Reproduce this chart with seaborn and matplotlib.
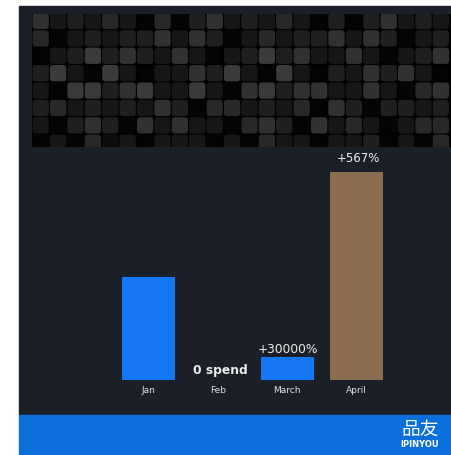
import numpy as np
import pandas as pd
import matplotlib
matplotlib.use("Agg")
import matplotlib.pyplot as plt
from matplotlib.path import Path
from matplotlib.patches import Rectangle
import seaborn as sns

# ---- data -------------------------------------------------------------
months = ["Jan", "Feb", "March", "April"]
spend = [103, 0, 23, 208]
change_labels = ["", "0 spend", "+30000%", "+567%"]

# brightness levels of the tile mosaic banner (0 = black, 3 = brightest)
mosaic_levels = [
    [2.5, 1, 1.5, 1, 2, 1, 0, 2, 0, 1.5, 2.5, 1, 1.5, 1, 2, 1, 0, 1.5, 0, 1.5, 2.5, 1, 1.5, 1],
    [2, 0, 1, 1.5, 1, 1.5, 1.5, 2.5, 1, 2.5, 1.5, 0, 1, 2, 1, 1.5, 1.5, 2.5, 1, 2.5, 1.5, 0, 1, 1.5],
    [0, 1, 1.5, 3, 1.5, 2.5, 1.5, 1, 2.5, 1, 0, 1, 1.5, 3, 1.5, 2.5, 1, 1, 2.5, 1, 0, 1, 1.5, 2.5],
    [1.5, 3, 1, 0, 3, 1, 0, 1, 1, 2.5, 1.5, 3, 1, 0, 3, 1, 0, 1.5, 1, 2.5, 1.5, 2.5, 1, 0],
    [1, 0, 3, 3, 1.5, 2.5, 3, 1, 1, 3, 1, 0, 2.5, 3, 1.5, 2.5, 2.5, 1, 1, 2.5, 1, 0, 2, 2.5],
    [1.5, 2, 1, 1.5, 1, 1.5, 1, 2.5, 1.5, 0, 2, 2, 1, 1.5, 1, 2, 0, 2.5, 1.5, 0, 1.5, 1.5, 1, 1.5],
    [1, 0, 1.5, 2.5, 1.5, 0, 2.5, 1, 2.5, 1, 1, 0, 2, 2.5, 1.5, 0, 2.5, 1, 2, 1, 0, 1, 2, 2],
    [0, 1, 0, 2, 0.5, 1, 0, 1, 1, 1, 0, 1, 0, 2, 1, 1, 0, 1, 1, 1.5, 0, 1, 0, 2],
]

# ---- styling ----------------------------------------------------------
W, H, DPI = 452, 455, 100
PANEL = "#1b1f27"
BAND = "#0a6edc"
BAR_COLORS = ["#1577f4", "#1577f4", "#1577f4", "#8b6d4f"]
TEXT = "#ececec"

sns.set_theme(style="white")
plt.rcParams["font.family"] = ["DejaVu Sans", "Noto Sans CJK SC"]

fig = plt.figure(figsize=(W / DPI, H / DPI), dpi=DPI, facecolor="white")


def fx(px):
    return px / W


def fy(py):
    return 1 - py / H


# dark card and the blue footer band (behind the axes)
fig.patches.append(Rectangle((fx(19), fy(415)), fx(452 - 19), (415 - 6) / H,
                             transform=fig.transFigure, color=PANEL, zorder=-10))
fig.patches.append(Rectangle((fx(19), fy(455)), fx(452 - 19), 40 / H,
                             transform=fig.transFigure, color=BAND, zorder=-10))

# ---- mosaic banner ----------------------------------------------------
pitch = 17.4
top, bottom, left, right = 14, 147, 32, 452
ax_m = fig.add_axes([fx(left), fy(bottom), fx(right - left), (bottom - top) / H])
ax_m.set_facecolor("black")

rows = []
for r, row in enumerate(mosaic_levels):
    for c, lvl in enumerate(row):
        rows.append({"col": c, "row": r, "grey": 4 + lvl * 18})
tiles = pd.DataFrame(rows)

# rounded square marker
rr = 0.42
verts = [(-1 + rr, -1), (1 - rr, -1), (1, -1), (1, -1 + rr), (1, 1 - rr), (1, 1),
         (1 - rr, 1), (-1 + rr, 1), (-1, 1), (-1, 1 - rr), (-1, -1 + rr), (-1, -1),
         (-1 + rr, -1), (-1 + rr, -1)]
codes = [Path.MOVETO, Path.LINETO, Path.CURVE3, Path.CURVE3, Path.LINETO, Path.CURVE3,
         Path.CURVE3, Path.LINETO, Path.CURVE3, Path.CURVE3, Path.LINETO, Path.CURVE3,
         Path.CURVE3, Path.CLOSEPOLY]
rounded = Path(verts, codes)

tile_pt = 16.3 * 72 / DPI
sns.scatterplot(data=tiles, x="col", y="row", hue="grey",
                palette=matplotlib.colormaps["gray"],
                hue_norm=matplotlib.colors.Normalize(0, 255),
                marker=rounded, s=tile_pt ** 2, edgecolor="none", linewidth=0,
                legend=False, ax=ax_m)
ax_m.set_xlim(-0.5, (right - left) / pitch - 0.5)
ax_m.set_ylim((bottom - top) / pitch - 0.4, -0.4)
ax_m.set_xticks([])
ax_m.set_yticks([])
ax_m.set_xlabel("")
ax_m.set_ylabel("")
for s in ax_m.spines.values():
    s.set_visible(False)

# ---- bar chart --------------------------------------------------------
bar_left, bar_right = 113.8, 391.2
base, ax_top = 380, 150
ax_b = fig.add_axes([fx(bar_left), fy(base), fx(bar_right - bar_left), (base - ax_top) / H])
ax_b.patch.set_alpha(0)

df = pd.DataFrame({"month": months, "spend": spend})
sns.barplot(data=df, x="month", y="spend", hue="month", palette=BAR_COLORS,
            legend=False, width=0.765, saturation=1, linewidth=0, ax=ax_b)
ax_b.set_xlim(-0.5, 3.5)
ax_b.set_ylim(0, base - ax_top)
ax_b.set_xlabel("")
ax_b.set_ylabel("")
ax_b.set_yticks([])
ax_b.tick_params(axis="x", length=0, pad=4, labelsize=6.5, labelcolor="#e2e2e2")
for s in ax_b.spines.values():
    s.set_visible(False)

label_style = {
    "0 spend": dict(offset=(1.5, 6.5), size=8.8, weight="bold"),
    "+30000%": dict(offset=(0.4, 5.4), size=8.8, weight="normal"),
    "+567%": dict(offset=(1.5, 10), size=8.5, weight="normal"),
}
for i, (val, lab) in enumerate(zip(spend, change_labels)):
    if not lab:
        continue
    st = label_style[lab]
    ax_b.annotate(lab, xy=(i, val), xytext=st["offset"], textcoords="offset points",
                  ha="center", va="center", fontsize=st["size"],
                  fontweight=st["weight"], color=TEXT)

# ---- footer logo -------------------------------------------------------
fig.text(fx(420), fy(429), "品友", ha="center", va="center", color="white",
         fontsize=13.5, family=["Noto Sans CJK SC", "DejaVu Sans"])
fig.text(fx(420), fy(444.5), "IPINYOU", ha="center", va="center", color="white",
         fontsize=6, fontweight="bold")

fig.savefig("out.png", dpi=DPI, facecolor="white")
